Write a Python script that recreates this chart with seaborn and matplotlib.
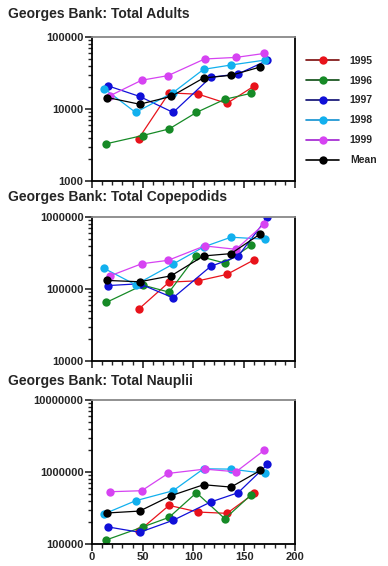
import numpy as np
import pandas as pd
import matplotlib
matplotlib.use('Agg')
import matplotlib.pyplot as plt
import seaborn as sns
from matplotlib.lines import Line2D
from matplotlib.ticker import FixedLocator, LogLocator, NullFormatter, FuncFormatter

# days of year for each cruise series
years = ['1995', '1996', '1997', '1998', '1999', 'Mean']
days = {
    '1995': [46, 76, 105, 133, 160],
    '1996': [14, 50, 76, 103, 131, 157],
    '1997': [16, 47, 80, 117, 144, 173],
    '1998': [12, 43, 80, 110, 137, 171],
    '1999': [18, 49, 75, 111, 142, 170],
    'Mean': [15, 47, 78, 110, 137, 166],
}

adults_1995 = [3900, 16800, 16100, 12000, 21000]
adults_1996 = [3300, 4300, 5300, 9000, 13700, 16600]
adults_1997 = [21000, 15000, 9000, 27700, 30800, 47600]
adults_1998 = [19300, 9000, 17000, 35700, 41000, 48100]
adults_1999 = [15400, 25200, 29200, 49700, 52300, 59400]
adults_mean = [14500, 11700, 15000, 27100, 29500, 38500]

cope_1995 = [52600, 125000, 130600, 160000, 256000]
cope_1996 = [65200, 113700, 90800, 292000, 230000, 407000]
cope_1997 = [112000, 118700, 75700, 207000, 286000, 989000]
cope_1998 = [194000, 115000, 223000, 385000, 526000, 493000]
cope_1999 = [153000, 225000, 251000, 398000, 357000, 807000]
cope_mean = [132000, 126500, 153000, 289000, 311000, 585000]

naup_1995 = [150000, 343000, 277000, 266000, 503000]
naup_1996 = [113500, 172000, 234000, 514000, 224000, 483000]
naup_1997 = [172000, 145000, 213000, 382000, 514000, 1270000]
naup_1998 = [261000, 398000, 548000, 1106000, 1094000, 953000]
naup_1999 = [531000, 548000, 953000, 1094000, 1005000, 2009000]
naup_mean = [269000, 286000, 468000, 664000, 616000, 1050000]

panels = [
    ('Georges Bank: Total Adults',
     [adults_1995, adults_1996, adults_1997, adults_1998, adults_1999, adults_mean], (1e3, 1e5)),
    ('Georges Bank: Total Copepodids',
     [cope_1995, cope_1996, cope_1997, cope_1998, cope_1999, cope_mean], (1e4, 1e6)),
    ('Georges Bank: Total Nauplii',
     [naup_1995, naup_1996, naup_1997, naup_1998, naup_1999, naup_mean], (1e5, 1e7)),
]

colors = {'1995': '#e8131b', '1996': '#168a26', '1997': '#1010d8',
          '1998': '#12b0ee', '1999': '#d643f2', 'Mean': '#000000'}
dark = {'1995': '#7a0a0a', '1996': '#0a4a12', '1997': '#0a0a70',
        '1998': '#1090d0', '1999': '#a020d0', 'Mean': '#000000'}

sns.set_style('white')
plt.rcParams['font.family'] = ['Liberation Sans', 'DejaVu Sans']
plt.rcParams['font.weight'] = 'bold'

fig = plt.figure(figsize=(3.88, 5.66), dpi=100)
bottoms = [0.680, 0.362, 0.039]
title_y = [0.975, 0.652, 0.327]

for i, (title, series, ylim) in enumerate(panels):
    ax = fig.add_axes([0.237, bottoms[i], 0.523, 0.2544])
    rows = []
    for yr, vals in zip(years, series):
        for d, v in zip(days[yr], vals):
            rows.append({'day': d, 'value': v, 'year': yr})
    df = pd.DataFrame(rows)
    sns.lineplot(data=df, x='day', y='value', hue='year', palette=colors,
                 marker='o', markersize=6, markeredgewidth=0, linewidth=0.9,
                 sort=False, estimator=None, legend=False, ax=ax)
    ax.set_yscale('log')
    ax.set_ylim(*ylim)
    ax.set_xlim(0, 200)
    ax.set_xlabel('')
    ax.set_ylabel('')
    ax.xaxis.set_major_locator(FixedLocator([0, 50, 100, 150, 200]))
    ax.xaxis.set_minor_locator(FixedLocator(np.arange(0, 201, 10)))
    ax.yaxis.set_major_locator(LogLocator(base=10))
    ax.yaxis.set_minor_locator(LogLocator(base=10, subs=np.arange(2, 10)))
    ax.yaxis.set_minor_formatter(NullFormatter())
    ax.yaxis.set_major_formatter(FuncFormatter(lambda v, p: f'{int(round(v))}'))
    ax.tick_params(which='major', direction='out', length=5, width=1.2,
                   labelsize=8, pad=1, bottom=True, left=True)
    ax.tick_params(which='minor', direction='out', length=3, width=1,
                   bottom=True, left=True)
    if i < 2:
        ax.tick_params(axis='x', labelbottom=False)
    for s in ['left', 'bottom', 'right']:
        ax.spines[s].set_color('black')
        ax.spines[s].set_linewidth(1.3)
    ax.spines['top'].set_color('#888888')
    ax.spines['top'].set_linewidth(1.3)
    fig.text(0.02, title_y[i], title, fontsize=10, fontweight='bold',
             va='center', ha='left')

handles = [Line2D([0], [0], color=dark[y], marker='o', markersize=6,
                  markerfacecolor=colors[y], markeredgewidth=0, linewidth=1.2)
           for y in years]
fig.legend(handles, years, loc='upper left', bbox_to_anchor=(0.778, 0.909),
           frameon=False, fontsize=7.5, handlelength=3.2, handletextpad=1.0,
           labelspacing=0.95, borderaxespad=0)

fig.savefig('out.png', dpi=100)
